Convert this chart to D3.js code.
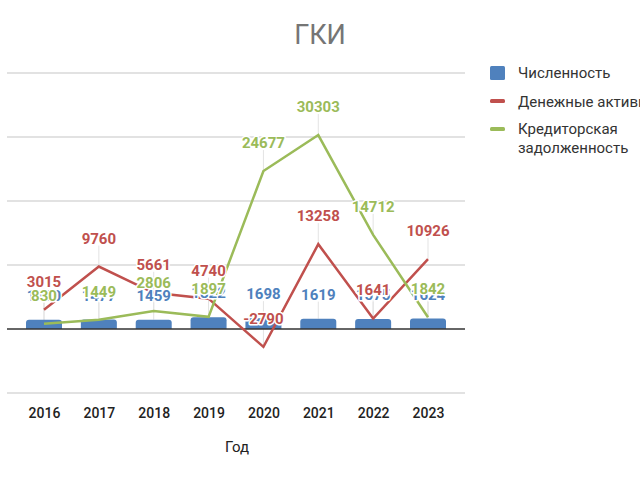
<!DOCTYPE html>
<html>
<head>
<meta charset="utf-8">
<script src="https://cdn.jsdelivr.net/npm/d3@7"></script>
<style>
  html, body { margin: 0; padding: 0; background: #fff; overflow: hidden; }
  svg { display: block; font-family: Roboto, "Noto Sans", sans-serif; }
</style>
</head>
<body>
<svg id="chart" width="640" height="480"></svg>
<script>
const years = ["2016", "2017", "2018", "2019", "2020", "2021", "2022", "2023"];
const headcount = [1430, 1477, 1459, 1822, 1698, 1619, 1575, 1624];
const cashAssets = [3015, 9760, 5661, 4740, -2790, 13258, 1641, 10926];
const payables = [830, 1449, 2806, 1897, 24677, 30303, 14712, 1842];
const yTicks = [-10000, 0, 10000, 20000, 30000, 40000];
const seriesNames = ["Численность", "Денежные активы", "Кредиторская задолженность"];
const colors = ["#4F81BD", "#C0504D", "#9BBB59"];

const svg = d3.select("#chart");
const plotLeft = 7, plotRight = 465;

const x = d3.scalePoint().domain(years).range([44, 428]);
const y = d3.scaleLinear().domain([-10000, 40000]).range([393, 73]);

// title
svg.append("text").attr("x", 320).attr("y", 44).attr("text-anchor", "middle")
  .attr("font-size", 27).attr("fill", "#757575").text("ГКИ");

// gridlines
svg.append("g").selectAll("line").data(yTicks.filter(d => d !== 0)).join("line")
  .attr("x1", plotLeft).attr("x2", plotRight)
  .attr("y1", d => y(d)).attr("y2", d => y(d))
  .attr("stroke", "#d9d9d9").attr("stroke-width", 1.5);

// x axis labels via d3 axis
const xAxis = svg.append("g").attr("transform", `translate(0,${y(-10000)})`)
  .call(d3.axisBottom(x).tickSize(0).tickPadding(15));
xAxis.select(".domain").remove();
xAxis.selectAll("text").attr("font-size", 14).attr("fill", "#222")
  .attr("font-family", "Roboto, sans-serif").attr("font-weight", 500);

// axis title
svg.append("text").attr("x", 237).attr("y", 452).attr("text-anchor", "middle")
  .attr("font-size", 15).attr("fill", "#222").text("Год");

const leaders = svg.append("g");

// bars
const barW = 36;
svg.append("g").selectAll("path").data(headcount).join("path")
  .attr("d", (d, i) => {
    const cx = x(years[i]), x0 = cx - barW / 2, y0 = y(d), y1 = y(0), r = 3;
    return `M${x0},${y1}V${y0 + r}Q${x0},${y0} ${x0 + r},${y0}H${x0 + barW - r}Q${x0 + barW},${y0} ${x0 + barW},${y0 + r}V${y1}Z`;
  })
  .attr("fill", colors[0]);

// zero line
svg.append("line").attr("x1", plotLeft).attr("x2", plotRight)
  .attr("y1", y(0)).attr("y2", y(0)).attr("stroke", "#333").attr("stroke-width", 1.5);

// lines
const line = d3.line().x((d, i) => x(years[i])).y(d => y(d));
[cashAssets, payables].forEach((vals, k) => {
  svg.append("path").datum(vals).attr("d", line)
    .attr("fill", "none").attr("stroke", colors[k + 1]).attr("stroke-width", 2.5)
    .attr("stroke-linejoin", "miter");
});

// leader lines and labels
const labelSets = [
  { vals: headcount, off: 19, color: colors[0] },
  { vals: cashAssets, off: 23, color: colors[1] },
  { vals: payables, off: 23, color: colors[2] }
];
labelSets.forEach(s => {
  leaders.selectAll(null).data(s.vals).join("line")
    .attr("x1", (d, i) => x(years[i])).attr("x2", (d, i) => x(years[i]))
    .attr("y1", d => y(d) - s.off + 2).attr("y2", d => y(d))
    .attr("stroke", "#e3e3e3").attr("stroke-width", 1);
});
labelSets.forEach(s => {
  svg.append("g").selectAll("text").data(s.vals).join("text")
    .attr("x", (d, i) => x(years[i])).attr("y", d => y(d) - s.off)
    .attr("text-anchor", "middle").attr("font-size", 15).attr("font-weight", "bold")
    .attr("fill", s.color).attr("stroke", "#fff").attr("stroke-width", 3)
    .attr("paint-order", "stroke").attr("stroke-linejoin", "round")
    .text(d => d);
});

// legend
const lg = svg.append("g");
lg.append("rect").attr("x", 490).attr("y", 66).attr("width", 15).attr("height", 14).attr("rx", 1.5).attr("fill", colors[0]);
lg.append("rect").attr("x", 490).attr("y", 99).attr("width", 15).attr("height", 4).attr("rx", 1.5).attr("fill", colors[1]);
lg.append("rect").attr("x", 490).attr("y", 127).attr("width", 15).attr("height", 4).attr("rx", 1.5).attr("fill", colors[2]);
const legTxt = [[seriesNames[0], 78], [seriesNames[1], 107]];
legTxt.forEach(([t, yy]) => lg.append("text").attr("x", 518).attr("y", yy)
  .attr("font-size", 15).attr("fill", "#333").text(t));
const t3 = lg.append("text").attr("x", 518).attr("y", 134).attr("font-size", 15).attr("fill", "#333");
const parts = seriesNames[2].split(" ");
t3.append("tspan").attr("x", 518).text(parts[0]);
t3.append("tspan").attr("x", 518).attr("dy", 19).text(parts[1]);
</script>
</body>
</html>
